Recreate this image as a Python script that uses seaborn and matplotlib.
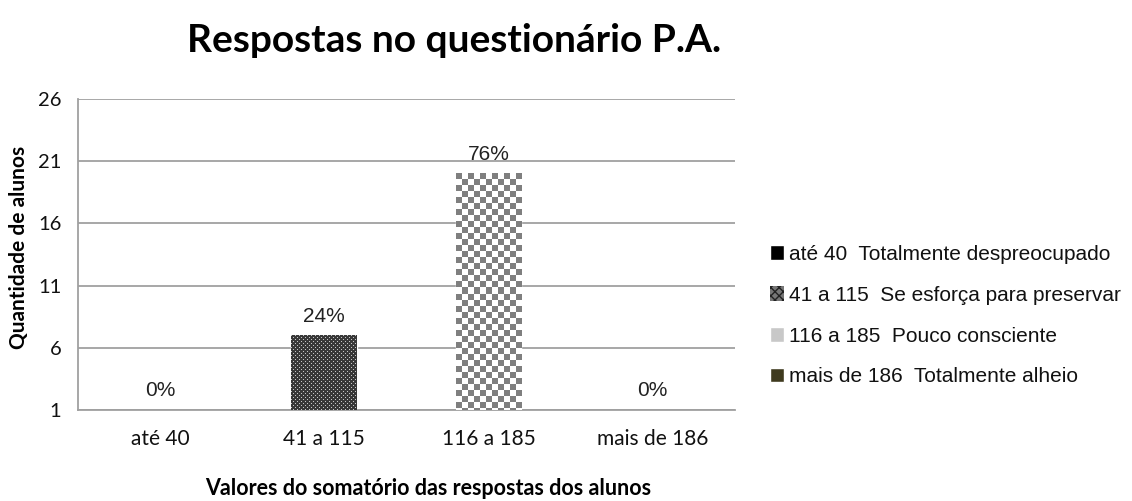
import numpy as np
import seaborn as sns
import matplotlib.pyplot as plt
from matplotlib.patches import Patch

# Chart data
categories = ['até 40', '41 a 115', '116 a 185', 'mais de 186']
counts = [0, 7, 20, 0]
pct_labels = ['0%', '24%', '76%', '0%']
legend_labels = ['até 40  Totalmente despreocupado',
                 '41 a 115  Se esforça para preservar',
                 '116 a 185  Pouco consciente',
                 'mais de 186  Totalmente alheio']
y_ticks = [1, 6, 11, 16, 21, 26]

sns.set_style('white')
plt.rcParams['font.family'] = ['Liberation Sans', 'DejaVu Sans']
plt.rcParams['text.color'] = '#111111'
plt.rcParams['xtick.color'] = '#111111'
plt.rcParams['ytick.color'] = '#111111'

CAL = ['Lato', 'DejaVu Sans']

fig = plt.figure(figsize=(11.32, 5.01), dpi=100)
ax = fig.add_axes([0.069, 0.182, 0.58, 0.62])

bar_colors = ['#000000', '#3a3a3a', '#ffffff', '#3f3a1e']
sns.barplot(x=categories, y=counts, hue=categories, palette=bar_colors,
            legend=False, width=0.4, ax=ax, zorder=2)

ax.set_ylim(y_ticks[0], y_ticks[-1])
ax.set_yticks(y_ticks)
ax.set_xlim(-0.5, len(categories) - 0.5)

patches = list(ax.patches)

# patterned fills drawn over the bars (kept inside the axes)
def fill_pattern(patch, maker):
    x0, w = patch.get_x(), patch.get_width()
    y0 = max(patch.get_y(), ax.get_ylim()[0])
    y1 = patch.get_y() + patch.get_height()
    if y1 <= y0:
        return
    (px0, py0), (px1, py1) = ax.transData.transform([(x0, y0), (x0 + w, y1)])
    nx, ny = int(round(px1 - px0)), int(round(py1 - py0))
    img = maker(nx, ny)
    ax.imshow(img, extent=[x0, x0 + w, y0, y1], aspect='auto',
              interpolation='nearest', zorder=3)

def fine_dots(nx, ny):
    img = np.zeros((ny, nx, 3)) + 0.22
    for i in range(ny):
        for j in range(nx):
            if (i % 4 == 0 and j % 4 == 0) or (i % 4 == 2 and j % 4 == 2):
                img[i, j] = 0.78
    return img

def checker(nx, ny, cell=6):
    img = np.ones((ny, nx, 3))
    for i in range(ny):
        for j in range(nx):
            if (i // cell + j // cell) % 2 == 0:
                img[i, j] = 0.5
    return img

fill_pattern(patches[1], fine_dots)
fill_pattern(patches[2], checker)

# percentage labels
for k, p in enumerate(patches[:len(categories)]):
    top = max(p.get_height(), y_ticks[0])
    ax.annotate(pct_labels[k], (p.get_x() + p.get_width() / 2, top),
                xytext=(0, 7), textcoords='offset points', ha='center',
                va='bottom', fontsize=15, color='#222222')

ax.grid(axis='y', color='#a0a0a0', linewidth=1.3, zorder=0)
ax.set_axisbelow(True)
for s in ['top', 'right']:
    ax.spines[s].set_visible(False)
for s in ['left', 'bottom']:
    ax.spines[s].set_color('#a0a0a0')
    ax.spines[s].set_linewidth(1.3)
ax.tick_params(axis='y', length=5, color='#a0a0a0', width=1.3, pad=7,
               labelsize=14.5)
ax.tick_params(axis='x', length=0, pad=14, labelsize=15)
for t in ax.get_xticklabels() + ax.get_yticklabels():
    t.set_family(CAL)
ax.set_xlabel('')
ax.set_ylabel('')

fig.text(0.401, 0.92, 'Respostas no questionário P.A.', ha='center',
         va='center', fontsize=28, fontweight='bold', family=CAL, color='black')
fig.text(0.017, 0.507, 'Quantidade de alunos', rotation=90, ha='center',
         va='center', fontsize=15, fontweight='bold', family=CAL, color='black')
fig.text(0.378, 0.004, 'Valores do somatório das respostas dos alunos',
         ha='center', va='bottom', fontsize=15.5, fontweight='bold',
         family=CAL, color='black')

handles = [Patch(facecolor='#000000'),
           Patch(facecolor='#777777', hatch='xxxx', edgecolor='#222222', linewidth=0),
           Patch(facecolor='#c8c8c8'),
           Patch(facecolor='#3f3a1e')]
fig.legend(handles, legend_labels, loc='center left',
           bbox_to_anchor=(0.680, 0.370), frameon=False, fontsize=15,
           handlelength=0.7, handleheight=0.7, handletextpad=0.2,
           labelspacing=1.05, borderpad=0, borderaxespad=0)

fig.savefig('out.png', dpi=100)
